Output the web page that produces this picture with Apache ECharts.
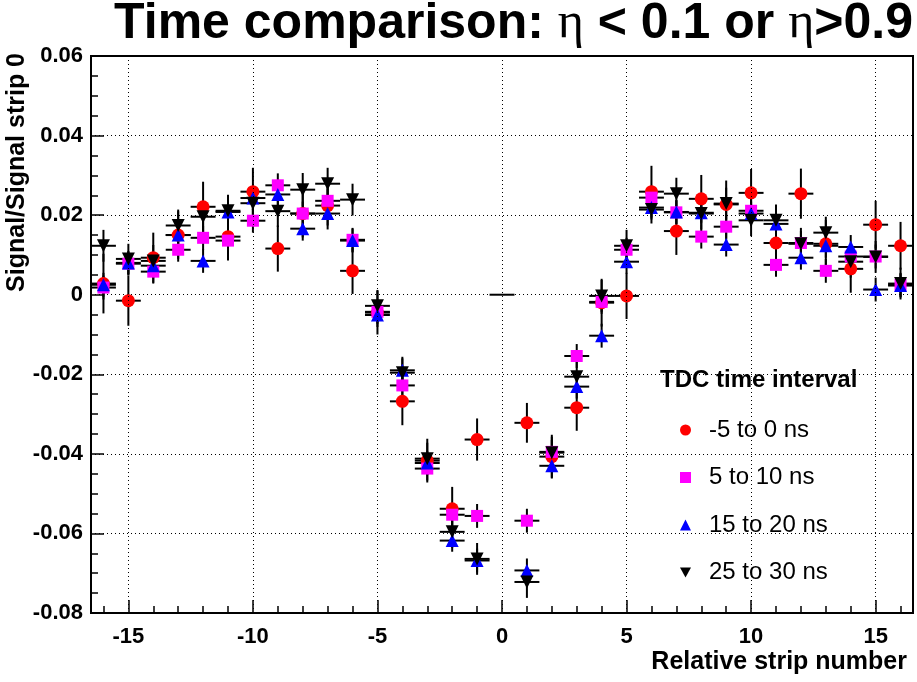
<!DOCTYPE html>
<html><head><meta charset="utf-8">
<script src="https://cdn.jsdelivr.net/npm/echarts@6/dist/echarts.min.js"></script>
<style>html,body{margin:0;padding:0;background:#fff}#c{width:917px;height:682px}</style>
</head><body><div id="c"></div>
<script>
// ---- data ----
const strips = [-16,-15,-14,-13,-12,-11,-10,-9,-8,-7,-6,-5,-4,-3,-2,-1,1,2,3,4,5,6,7,8,9,10,11,12,13,14,15,16];
const redVals = [0.0028,-0.0015,0.0093,0.0150,0.0221,0.0146,0.0259,0.0116,0.0204,0.0224,0.0060,-0.0045,-0.0268,-0.0417,-0.0538,-0.0364,
                 -0.0322,-0.0407,-0.0284,-0.0020,-0.0003,0.0259,0.0160,0.0241,0.0227,0.0256,0.0130,0.0254,0.0128,0.0065,0.0176,0.0123];
const redErr  = [0.0075,0.0063,0.0063,0.0060,0.0063,0.0060,0.0060,0.0058,0.0060,0.0060,0.0058,0.0055,0.0060,0.0055,0.0055,0.0053,
                 0.0050,0.0055,0.0058,0.0060,0.0058,0.0065,0.0060,0.0060,0.0060,0.0060,0.0060,0.0063,0.0060,0.0060,0.0060,0.0060];
const magVals = [0.0018,0.0078,0.0058,0.0113,0.0143,0.0136,0.0186,0.0275,0.0204,0.0236,0.0138,-0.0043,-0.0228,-0.0437,-0.0553,-0.0556,
                 -0.0568,-0.0395,-0.0154,-0.0018,0.0113,0.0244,0.0207,0.0146,0.0171,0.0211,0.0075,0.0130,0.0060,0.0096,0.0096,0.0025];
const magErr  = [0.0030,0.0030,0.0030,0.0030,0.0030,0.0030,0.0030,0.0030,0.0030,0.0030,0.0030,0.0030,0.0030,0.0030,0.0030,0.0030,
                 0.0030,0.0030,0.0030,0.0030,0.0030,0.0030,0.0030,0.0030,0.0030,0.0030,0.0030,0.0030,0.0030,0.0030,0.0030,0.0030];
const blueVals = [0.0025,0.0080,0.0073,0.0150,0.0085,0.0208,0.0243,0.0252,0.0166,0.0204,0.0136,-0.0051,-0.0190,-0.0423,-0.0618,-0.0668,
                  -0.0693,-0.0430,-0.0231,-0.0103,0.0083,0.0219,0.0208,0.0206,0.0126,0.0204,0.0178,0.0093,0.0123,0.0120,0.0013,0.0023];
const blueErr  = [0.0030,0.0030,0.0030,0.0030,0.0030,0.0030,0.0030,0.0030,0.0030,0.0030,0.0030,0.0030,0.0030,0.0030,0.0028,0.0030,
                  0.0030,0.0030,0.0030,0.0030,0.0030,0.0030,0.0030,0.0030,0.0030,0.0030,0.0030,0.0030,0.0030,0.0030,0.0030,0.0030];
const blackVals = [0.0123,0.0090,0.0085,0.0174,0.0196,0.0211,0.0230,0.0210,0.0264,0.0279,0.0239,-0.0028,-0.0196,-0.0412,-0.0596,-0.0664,
                   -0.0722,-0.0397,-0.0206,-0.0003,0.0123,0.0214,0.0254,0.0204,0.0229,0.0187,0.0187,0.0128,0.0156,0.0083,0.0095,0.0028];
const blackErr  = [0.0040,0.0038,0.0040,0.0040,0.0040,0.0040,0.0040,0.0040,0.0042,0.0040,0.0040,0.0040,0.0040,0.0040,0.0040,0.0040,
                   0.0040,0.0040,0.0040,0.0040,0.0040,0.0035,0.0040,0.0040,0.0040,0.0040,0.0040,0.0040,0.0040,0.0040,0.0040,0.0040];
const refStrip = [0];
const refValue = [0];
const seriesNames = ['-5 to 0 ns','5 to 10 ns','15 to 20 ns','25 to 30 ns'];
const xMajorTicks = [-15,-10,-5,0,5,10,15];
const xMinorTicks = [-16,-15,-14,-13,-12,-11,-10,-9,-8,-7,-6,-5,-4,-3,-2,-1,0,1,2,3,4,5,6,7,8,9,10,11,12,13,14,15,16];
const halfBin = 0.5;

// ---- chart ----
const chart = echarts.init(document.getElementById('c'), null, {renderer:'canvas'});
const FONT = 'Liberation Sans, Arial, sans-serif';

function errRender(params, api) {
  const x = api.value(0), y = api.value(1), e = api.value(2);
  const c = api.coord([x, y]);
  const t = api.coord([x, y + e]);
  const b = api.coord([x, y - e]);
  const l = api.coord([x - halfBin, y]);
  const r = api.coord([x + halfBin, y]);
  const children = [
    {type:'line', shape:{x1:l[0],y1:c[1],x2:r[0],y2:c[1]}, style:{stroke:'#000', lineWidth:2}}
  ];
  if (e > 0) children.push({type:'line', shape:{x1:c[0],y1:t[1],x2:c[0],y2:b[1]}, style:{stroke:'#000', lineWidth:2}});
  return {type:'group', children};
}

const sets = [
  {name:seriesNames[0], vals:redVals, errs:redErr, color:'#ff0000', symbol:'circle', size:13},
  {name:seriesNames[1], vals:magVals, errs:magErr, color:'#ff00ff', symbol:'rect', size:12},
  {name:seriesNames[2], vals:blueVals, errs:blueErr, color:'#0000ff', symbol:'triangle', size:13},
  {name:seriesNames[3], vals:blackVals, errs:blackErr, color:'#000000', symbol:'path://M0,0L10,0L5,9Z', size:13}
];

const series = [];
series.push({
  type:'custom', name:'ref', renderItem: errRender, encode:{x:0,y:1},
  data: refStrip.map((s,i)=>[s, refValue[i], 0]), z:2, silent:true,
  markLine: {
    silent:true, symbol:'none', label:{show:false}, animation:false,
    lineStyle:{color:'#000', type:[1,3], width:1},
    data: xMajorTicks.map(v=>({xAxis:v}))
  }
});
sets.forEach(s => {
  series.push({
    type:'custom', name:s.name + ' err', renderItem: errRender, encode:{x:0,y:1},
    data: strips.map((x,i)=>[x, s.vals[i], s.errs[i]]), z:2, silent:true
  });
  series.push({
    type:'scatter', name:s.name, symbol:s.symbol, symbolSize:s.size,
    itemStyle:{color:s.color, opacity:1}, z:2,
    data: strips.map((x,i)=>[x, s.vals[i]])
  });
});

const option = {
  animation:false,
  backgroundColor:'#fff',
  grid:{left:91, top:56, width:822, height:557, show:true, borderColor:'#000', borderWidth:2, backgroundColor:'transparent'},
  xAxis:[{
    type:'value', min:-16.5, max:16.5, position:'bottom',
    axisLine:{show:true, onZero:false, lineStyle:{color:'#000', width:2}},
    axisTick:{show:true, inside:true, length:7, customValues:xMinorTicks, lineStyle:{color:'#000', width:1.5}},
    axisLabel:{show:false}, splitLine:{show:false}
  },{
    type:'value', min:-16.5, max:16.5, position:'bottom',
    axisLine:{show:false, onZero:false},
    axisTick:{show:true, inside:true, length:13, customValues:xMajorTicks, lineStyle:{color:'#000', width:1.5}},
    axisLabel:{show:true, customValues:xMajorTicks, margin:13, color:'#000', fontSize:22, fontWeight:'bold', fontFamily:FONT},
    splitLine:{show:false}
  }],
  yAxis:{
    type:'value', min:-0.08, max:0.06, interval:0.02,
    axisLine:{show:true, onZero:false, lineStyle:{color:'#000', width:2}},
    axisTick:{show:true, inside:true, length:13, lineStyle:{color:'#000', width:1.5}},
    minorTick:{show:true, splitNumber:4, length:7, lineStyle:{color:'#000', width:1.5}},
    axisLabel:{margin:8, color:'#000', fontSize:22, fontWeight:'bold', fontFamily:FONT,
      formatter: v => Math.abs(v) < 1e-9 ? '0' : v.toFixed(2)},
    splitLine:{show:true, lineStyle:{color:'#000', type:[1,3], width:1}}
  },
  legend:{
    data: seriesNames, orient:'vertical', left:675, top:413,
    itemWidth:11, itemHeight:11, itemGap:23.5,
    textStyle:{color:'#000', fontSize:24, fontFamily:FONT, lineHeight:24, padding:[0,0,0,13]},
    selectedMode:false
  },
  graphic:[
    {type:'text', x:913, y:24, silent:true,
     style:{text:'{b|Time comparison: }{e|η}{b| < 0.1 or }{e|η}{b|>0.9}', align:'right', verticalAlign:'middle',
       rich:{
         b:{fontSize:50, fontWeight:'bold', fontFamily:FONT, fill:'#000'},
         e:{fontSize:50, fontWeight:'normal', fontFamily:'Liberation Serif, serif', fill:'#000'}
       }}},
    {type:'text', x:17, y:53, rotation:Math.PI/2, silent:true,
     style:{text:'Signal/Signal strip 0', align:'right', verticalAlign:'middle', fontSize:25, fontWeight:'bold', fontFamily:FONT, fill:'#000'}},
    {type:'text', x:907, y:662, silent:true,
     style:{text:'Relative strip number', align:'right', verticalAlign:'middle', fontSize:25, fontWeight:'bold', fontFamily:FONT, fill:'#000'}},
    {type:'text', x:660, y:380, silent:true,
     style:{text:'TDC time interval', align:'left', verticalAlign:'middle', fontSize:24, fontWeight:'bold', fontFamily:FONT, fill:'#000'}}
  ],
  series
};
chart.setOption(option);
</script></body></html>
